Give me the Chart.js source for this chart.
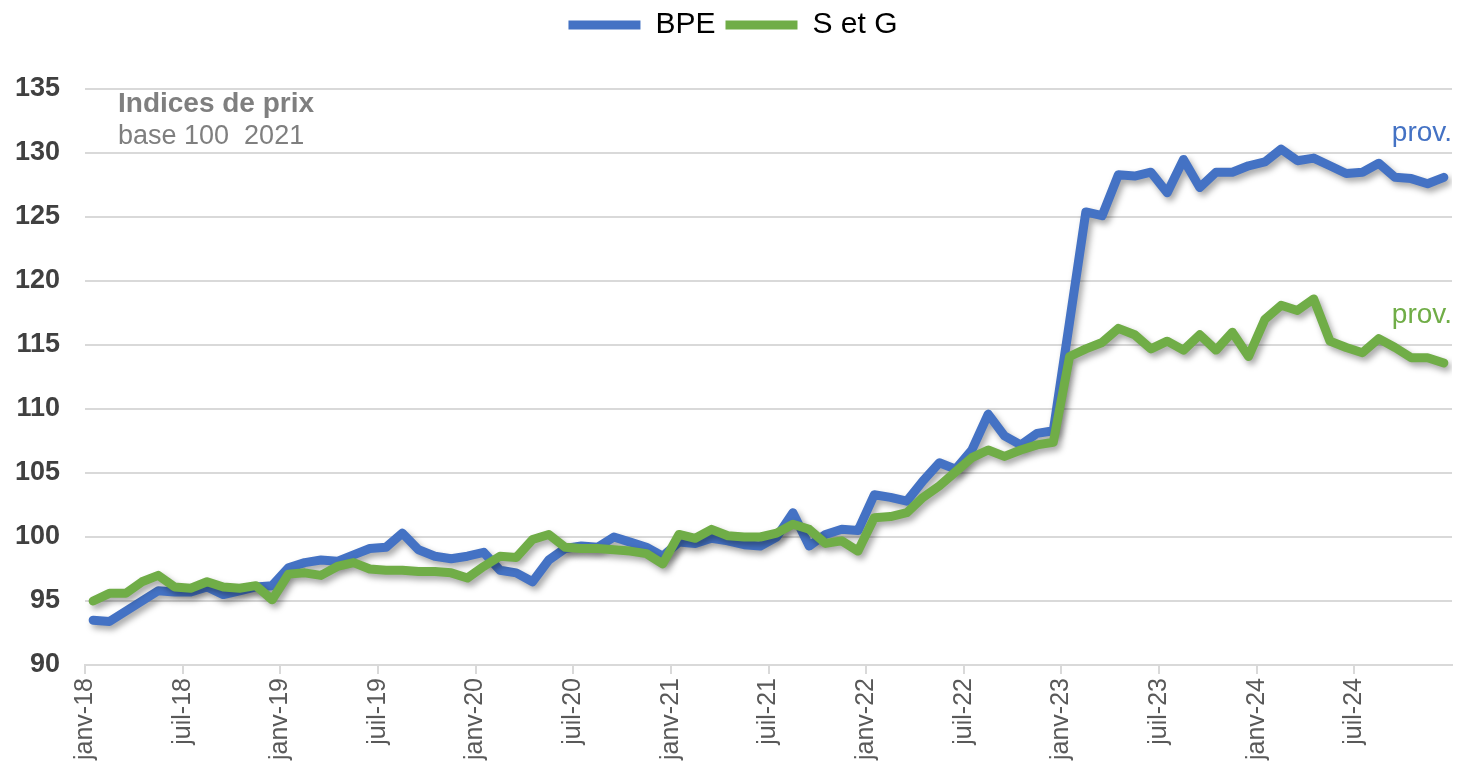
<!DOCTYPE html>
<html>
<head>
<meta charset="utf-8">
<script src="https://cdn.jsdelivr.net/npm/chart.js@4.4.1/dist/chart.umd.min.js"></script>
<style>
  html, body { margin: 0; padding: 0; background: #fff; }
  #wrap { width: 1459px; height: 764px; }
</style>
</head>
<body>
<div id="wrap"><canvas id="chartPrix"></canvas></div>
<script>
// months janv-18 .. déc-24
const monthNames = ['janv','févr','mars','avr','mai','juin','juil','août','sept','oct','nov','déc'];
const months = [];
for (let y = 18; y <= 24; y++) monthNames.forEach(m => months.push(m + '-' + y));

const tickLabels = ['janv-18','juil-18','janv-19','juil-19','janv-20','juil-20','janv-21',
  'juil-21','janv-22','juil-22','janv-23','juil-23','janv-24','juil-24'];

const bpe = [
  93.5, 93.4, 94.2, 95.0, 95.8, 95.7, 95.7, 96.1, 95.5, 95.8, 96.1, 96.2,
  97.6, 98.0, 98.2, 98.1, 98.6, 99.1, 99.2, 100.3, 99.0, 98.5, 98.3, 98.5,
  98.8, 97.4, 97.2, 96.5, 98.2, 99.1, 99.3, 99.2, 100.0, 99.6, 99.2, 98.5,
  99.6, 99.5, 99.9, 99.7, 99.4, 99.3, 100.0, 101.9, 99.3, 100.2, 100.6, 100.5,
  103.3, 103.1, 102.8, 104.4, 105.8, 105.3, 106.8, 109.6, 107.9, 107.2, 108.1, 108.3,
  116.8, 125.4, 125.1, 128.3, 128.2, 128.5, 126.9, 129.5, 127.3, 128.5, 128.5, 129.0,
  129.3, 130.3, 129.4, 129.6, 129.0, 128.4, 128.5, 129.2, 128.1, 128.0, 127.6, 128.1
];

const setg = [
  95.0, 95.6, 95.6, 96.5, 97.0, 96.1, 96.0, 96.5, 96.1, 96.0, 96.2, 95.1,
  97.1, 97.2, 97.0, 97.7, 98.0, 97.5, 97.4, 97.4, 97.3, 97.3, 97.2, 96.8,
  97.7, 98.5, 98.4, 99.8, 100.2, 99.2, 99.1, 99.1, 99.0, 98.9, 98.7, 97.9,
  100.2, 99.9, 100.6, 100.1, 100.0, 100.0, 100.3, 101.0, 100.6, 99.5, 99.7, 98.9,
  101.5, 101.6, 101.9, 103.1, 104.0, 105.1, 106.2, 106.8, 106.3, 106.8, 107.2, 107.4,
  114.1, 114.7, 115.2, 116.3, 115.8, 114.7, 115.3, 114.6, 115.8, 114.6, 116.0, 114.1,
  117.0, 118.1, 117.7, 118.6, 115.3, 114.8, 114.4, 115.5, 114.8, 114.0, 114.0, 113.6
];

const BLUE = '#4472C4';
const GREEN = '#70AD47';
const FONT = "'Liberation Sans', Arial, sans-serif";

// points sit in the middle of each month, ticks on month boundaries
const toPoints = arr => arr.map((v, i) => ({ x: i + 0.5, y: v }));

const shadowPlugin = {
  id: 'shadow',
  beforeDatasetDraw(chart){
    const ctx = chart.ctx;
    ctx.save();
    ctx.shadowColor = 'rgba(0,0,0,0.35)';
    ctx.shadowBlur = 6;
    ctx.shadowOffsetX = 3;
    ctx.shadowOffsetY = 4;
  },
  afterDatasetDraw(chart){
    chart.ctx.restore();
  }
};

const legendSpace = {
  id: 'legendSpace',
  beforeInit(chart){
    const fit = chart.legend.fit;
    chart.legend.fit = function(){
      fit.bind(chart.legend)();
      this.height += 39;
    };
  }
};

const notes = {
  id: 'notes',
  afterDraw(chart){
    const ctx = chart.ctx;
    const y = chart.scales.y;
    const right = chart.chartArea.right;
    ctx.save();
    ctx.textBaseline = 'alphabetic';
    ctx.textAlign = 'left';
    ctx.fillStyle = '#7f7f7f';
    ctx.font = 'bold 28px ' + FONT;
    ctx.fillText('Indices de prix', 118, 112);
    ctx.font = '27px ' + FONT;
    ctx.fillText('base 100  2021', 118, 144);
    ctx.textAlign = 'right';
    ctx.font = '28px ' + FONT;
    ctx.fillStyle = BLUE;
    ctx.fillText('prov.', right, y.getPixelForValue(130.95));
    ctx.fillStyle = GREEN;
    ctx.fillText('prov.', right, y.getPixelForValue(116.75));
    ctx.restore();
  }
};

function lineSet(label, data, color, order){
  return {
    label: label,
    data: toPoints(data),
    borderColor: color,
    backgroundColor: color,
    borderWidth: 9,
    pointRadius: 0,
    pointHoverRadius: 0,
    pointStyle: 'line',
    tension: 0,
    borderJoinStyle: 'round',
    borderCapStyle: 'round',
    order: order
  };
}

new Chart(document.getElementById('chartPrix').getContext('2d'), {
  type: 'line',
  data: {
    datasets: [
      lineSet('BPE', bpe, BLUE, 1),
      lineSet('S et G', setg, GREEN, 0)
    ]
  },
  options: {
    responsive: true,
    maintainAspectRatio: false,
    animation: false,
    layout: { padding: { left: 14, right: 7, top: 0, bottom: 0 } },
    plugins: {
      tooltip: { enabled: false },
      legend: {
        position: 'top',
        labels: {
          usePointStyle: true,
          pointStyleWidth: 72,
          padding: 10,
          color: '#000',
          font: { family: FONT, size: 30 },
          sort: (a, b) => a.datasetIndex - b.datasetIndex
        }
      }
    },
    scales: {
      x: {
        type: 'linear',
        min: 0,
        max: months.length,
        afterBuildTicks: axis => {
          axis.ticks = tickLabels.map((t, k) => ({ value: k * 6 }));
        },
        ticks: {
          autoSkip: false,
          minRotation: 90,
          maxRotation: 90,
          padding: 4,
          color: '#595959',
          font: { family: FONT, size: 25 },
          callback: v => tickLabels[v / 6]
        },
        grid: {
          drawOnChartArea: false,
          drawTicks: true,
          tickLength: 9,
          color: '#d9d9d9',
          lineWidth: 2
        },
        border: { display: true, color: '#d9d9d9', width: 2 }
      },
      y: {
        min: 90,
        max: 135,
        afterFit: axis => { axis.width = 71; },
        ticks: {
          stepSize: 5,
          padding: 25,
          color: '#404040',
          font: { family: FONT, size: 27, weight: 'bold' }
        },
        grid: {
          drawTicks: false,
          color: '#d9d9d9',
          lineWidth: 2
        },
        border: { display: false }
      }
    }
  },
  plugins: [shadowPlugin, legendSpace, notes]
});
</script>
</body>
</html>
